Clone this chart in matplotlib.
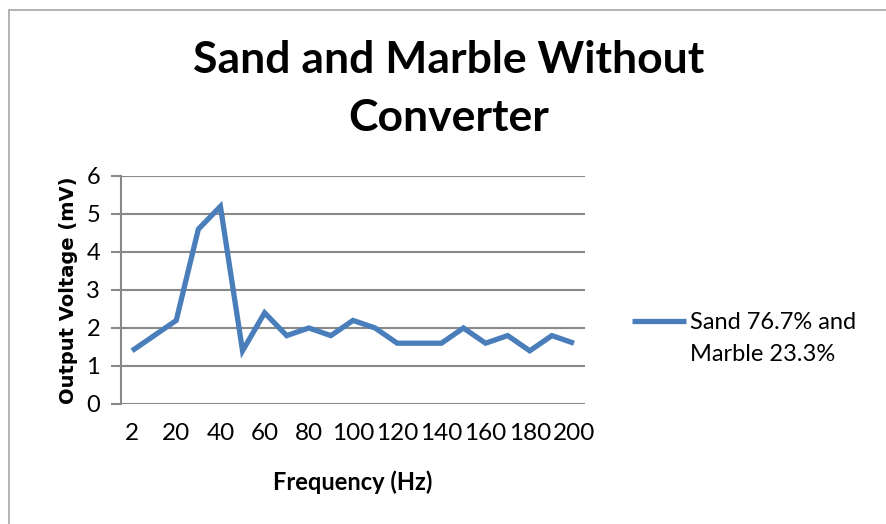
import matplotlib
matplotlib.use("Agg")
import matplotlib.pyplot as plt
from matplotlib.patches import Rectangle
from matplotlib.lines import Line2D

# frequency categories (Hz) and measured output voltage (mV)
freq = [2, 10, 20, 30, 40, 50, 60, 70, 80, 90, 100,
        110, 120, 130, 140, 150, 160, 170, 180, 190, 200]
voltage = [1.4, 1.8, 2.2, 4.6, 5.2, 1.4, 2.4, 1.8, 2.0, 1.8, 2.2,
           2.0, 1.6, 1.6, 1.6, 2.0, 1.6, 1.8, 1.4, 1.8, 1.6]
series_name = "Sand 76.7% and\nMarble 23.3%"
y_ticks = [0, 1, 2, 3, 4, 5, 6]

plt.rcParams['font.family'] = ['Lato', 'DejaVu Sans']

line_col = '#4A7EBB'
grid_col = '#898989'

fig = plt.figure(figsize=(8.86, 5.24), dpi=100)
W, H = 886, 524

# chart area frame
fig.patches.append(Rectangle((9 / W, -0.1), 1.2, 1 - 10 / H + 0.1,
                             transform=fig.transFigure, fill=False,
                             edgecolor='#A6A6A6', lw=1.2))

ax = fig.add_axes([121 / W, 1 - 404 / H, (585 - 121) / W, (404 - 176) / H])

pos = list(range(len(freq)))
ax.plot(pos, voltage, color=line_col, lw=3.8, solid_joinstyle='miter',
        solid_capstyle='butt', zorder=3)

ax.set_xlim(-0.5, len(freq) - 0.5)
ax.set_ylim(0, 6)
ax.set_yticks(y_ticks)
for y in y_ticks:
    ax.axhline(y, color=grid_col, lw=1.5, zorder=1)

# label every second category
ax.set_xticks(pos[::2])
ax.set_xticklabels([str(f) for f in freq[::2]], fontsize=17.5)
ax.tick_params(axis='x', length=0, pad=14)
ax.tick_params(axis='y', length=7, width=1.5, color=grid_col,
               labelsize=17, pad=8)

for side in ['top', 'right', 'bottom']:
    ax.spines[side].set_visible(False)
ax.spines['left'].set_color(grid_col)
ax.spines['left'].set_linewidth(1.5)

ax.set_xlabel("Frequency (Hz)", fontsize=17, fontweight='bold', labelpad=19)
ax.set_ylabel("Output Voltage (mV)", fontsize=14, fontweight='bold',
              family='DejaVu Sans', labelpad=6)

fig.text(449 / W, 1 - 89 / H, "Sand and Marble Without\nConverter",
         ha='center', va='center', fontsize=32, fontweight='bold',
         linespacing=1.55)

# legend: key line sits beside the first text row
fig.add_artist(Line2D([632 / W, 686 / W], [1 - 321 / H, 1 - 321 / H],
                      color=line_col, lw=3.8, solid_capstyle='butt'))
fig.text(690 / W, 1 - 338.5 / H, series_name, ha='left', va='center',
         fontsize=17, linespacing=1.7)

fig.savefig("out.png", dpi=100)
